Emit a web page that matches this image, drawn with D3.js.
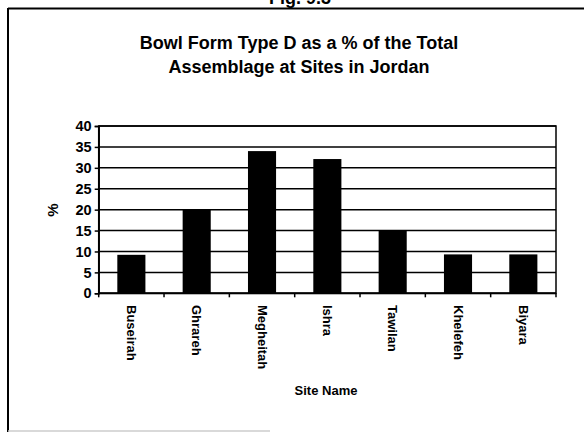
<!DOCTYPE html>
<html><head><meta charset="utf-8">
<script src="https://cdn.jsdelivr.net/npm/d3@7"></script>
<style>body{margin:0;background:#fff}svg{display:block}text{font-family:"Liberation Sans",Arial,sans-serif;font-weight:bold;fill:#000}</style>
</head><body>
<script>
const sites = ["Buseirah","Ghrareh","Megheitah","Ishra","Tawilan","Khelefeh","Biyara"];
const percents = [9.2, 20.1, 34.0, 32.1, 15.1, 9.3, 9.3];
const yTicks = [0,5,10,15,20,25,30,35,40];
const titleLines = ["Bowl Form Type D as a % of the Total","Assemblage at Sites in Jordan"];

const W=584,H=434;
const svg=d3.select("body").append("svg").attr("width",W).attr("height",H);
const L=98.7,R=556,T=126,B=293.3;
const x=d3.scaleBand().domain(sites).range([L,R]).paddingInner(0.57).paddingOuter(0.285);
const y=d3.scaleLinear().domain([0,40]).range([B,T]);

// outer frame
svg.append("line").attr("x1",8).attr("x2",584).attr("y1",8.5).attr("y2",8.5).attr("stroke","#000").attr("stroke-width",2);
svg.append("line").attr("x1",8).attr("x2",8).attr("y1",8).attr("y2",432).attr("stroke","#000").attr("stroke-width",2);
svg.append("line").attr("x1",8).attr("x2",270).attr("y1",431).attr("y2",431).attr("stroke","#ccc").attr("stroke-width",1.5);
svg.append("text").attr("x",300).attr("y",4).attr("text-anchor","middle").style("font-size","18px").text("Fig. 9.3");

// title
svg.append("g").selectAll("text").data(titleLines).join("text")
  .attr("x",299).attr("y",(d,i)=>49+i*24).attr("text-anchor","middle").style("font-size","18px").text(d=>d);

// gridlines
svg.append("g").selectAll("line").data(yTicks.filter(v=>v>0)).join("line")
  .attr("x1",L).attr("x2",R).attr("y1",d=>y(d)).attr("y2",d=>y(d)).attr("stroke","#000").attr("stroke-width",1.5);

// bars
svg.append("g").selectAll("rect").data(percents).join("rect")
  .attr("x",(d,i)=>x(sites[i])).attr("width",x.bandwidth())
  .attr("y",d=>y(d)).attr("height",d=>B-y(d)).attr("fill","#000");

// plot border
svg.append("rect").attr("x",L).attr("y",T).attr("width",R-L).attr("height",B-T).attr("fill","none").attr("stroke","#000").attr("stroke-width",1.5);

// y axis
const ya=svg.append("g").attr("transform",`translate(${L},0)`)
  .call(d3.axisLeft(y).tickValues(yTicks).tickSize(4).tickPadding(3));
ya.attr("font-size",null).attr("font-family",null);
ya.select(".domain").attr("stroke","#000").attr("stroke-width",1.5);
ya.selectAll("line").attr("stroke-width",1.5);
ya.selectAll("text").style("font-size","14.5px").style("font-family","'Liberation Sans',Arial,sans-serif").style("font-weight","bold");

// x axis ticks at band boundaries
const bounds=d3.range(sites.length+1).map(i=>L+i*(R-L)/sites.length);
svg.append("g").selectAll("line").data(bounds).join("line")
  .attr("x1",d=>d).attr("x2",d=>d).attr("y1",B).attr("y2",B+4).attr("stroke","#000").attr("stroke-width",1.5);
svg.append("line").attr("x1",L).attr("x2",R).attr("y1",B).attr("y2",B).attr("stroke","#000").attr("stroke-width",2);

// x labels rotated
svg.append("g").selectAll("text").data(sites).join("text")
  .attr("transform",d=>`translate(${x(d)+x.bandwidth()/2-4.5},305) rotate(90)`)
  .attr("text-anchor","start").style("font-size","13px").text(d=>d);

svg.append("text").attr("x",326).attr("y",395).attr("text-anchor","middle").style("font-size","13px").text("Site Name");
svg.append("text").attr("transform","translate(58,210) rotate(-90)").attr("text-anchor","middle").style("font-size","15px").text("%");
</script>
</body></html>
